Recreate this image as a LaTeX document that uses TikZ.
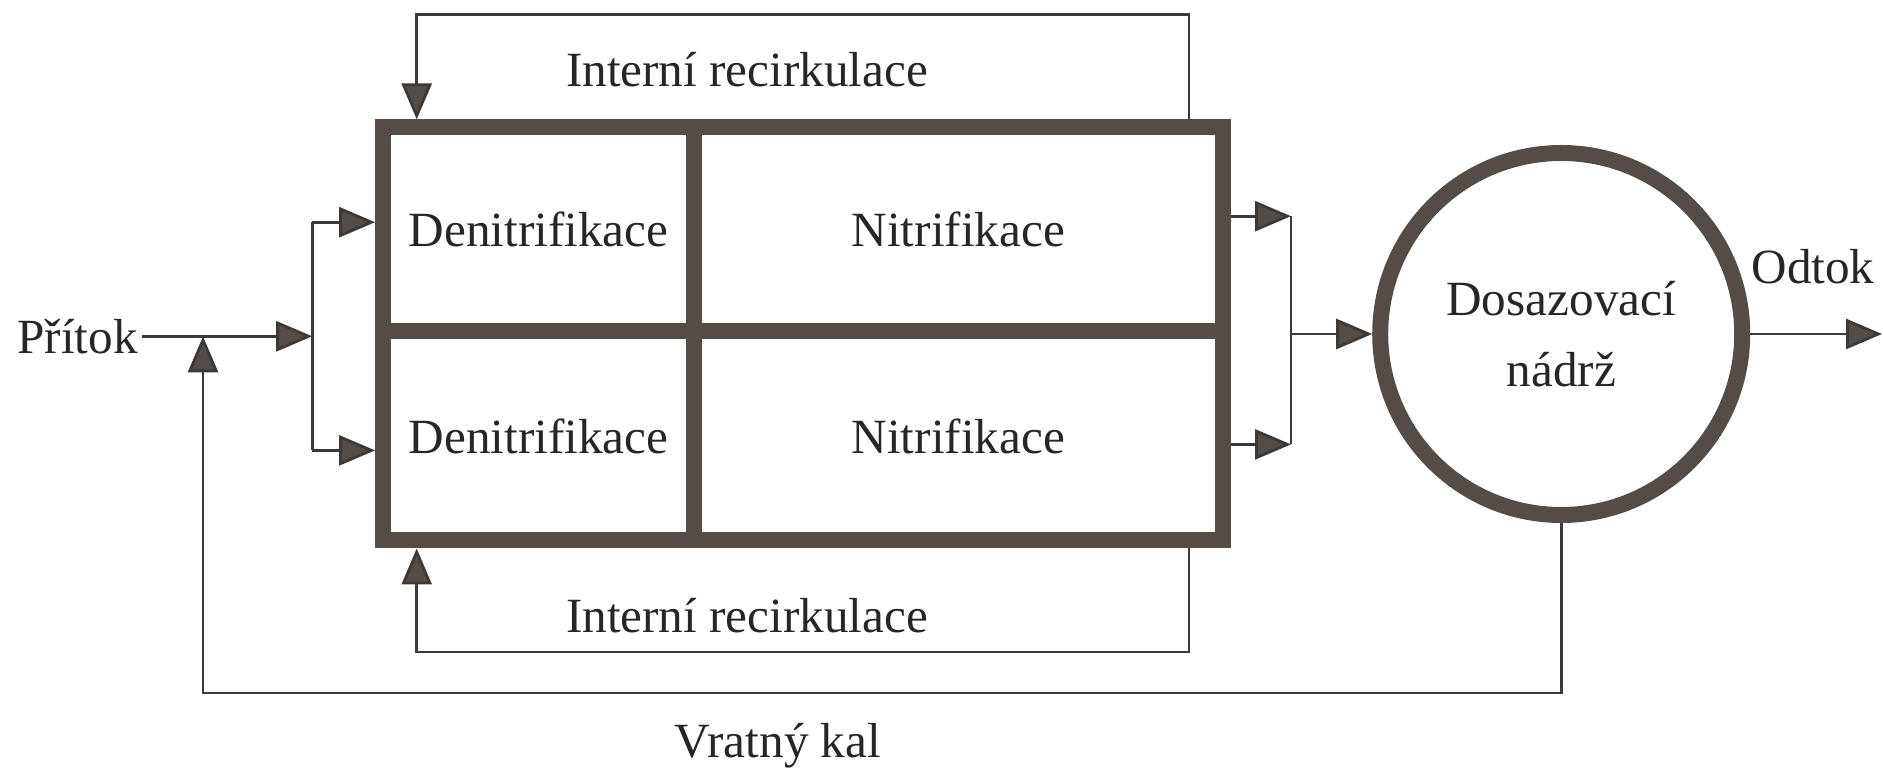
\documentclass[tikz,border=0pt]{standalone}
\usepackage{fontspec}
\setmainfont{Liberation Serif}
\usepackage{tikz}
\usetikzlibrary{arrows.meta,positioning,calc}
\definecolor{tankInk}{RGB}{84,76,70}
\definecolor{lineInk}{RGB}{60,58,56}
\definecolor{textInk}{RGB}{40,38,36}
\tikzset{
  tank cell/.style={draw=tankInk,line width=1.6mm,inner sep=0pt,text=textInk,font=\fontsize{14}{17}\selectfont},
  settler/.style={circle,draw=tankInk,line width=1.6mm,minimum size=3.62cm,align=center,text=textInk,font=\fontsize{14}{20}\selectfont},
  flow label/.style={text=textInk,font=\fontsize{14}{17}\selectfont,inner sep=1pt},
  flow line/.style={draw=lineInk,line width=0.8pt},
  flow arrow/.style={-{Triangle[length=3.6mm,width=3mm,fill=tankInk]},draw=lineInk,line width=0.8pt}
}
\begin{document}
\begin{tikzpicture}
  \useasboundingbox (0,0) rectangle (18.83,7.71);
  % aeration tank, two lanes
  \node[tank cell,minimum width=3.11cm,minimum height=2.04cm] (den1) at (5.386,5.416) {Denitrifikace};
  \node[tank cell,minimum width=5.284cm,minimum height=2.04cm] (nit1) at (9.583,5.416) {Nitrifikace};
  \node[tank cell,minimum width=3.11cm,minimum height=2.09cm] (den2) at (5.386,3.35) {Denitrifikace};
  \node[tank cell,minimum width=5.284cm,minimum height=2.09cm] (nit2) at (9.583,3.35) {Nitrifikace};
  % settling tank
  \node[settler] (dos) at (15.612,4.37) {Dosazovací\\nádrž};
  % labels
  \node[flow label,anchor=east] (inflow) at (1.42,4.347) {Přítok};
  \node[flow label] (outlab) at (18.13,5.04) {Odtok};
  \node[flow label] (recTop) at (7.47,7.01) {Interní recirkulace};
  \node[flow label] (recBot) at (7.47,1.55) {Interní recirkulace};
  \node[flow label] (sludge) at (7.78,0.25) {Vratný kal};
  % routing points
  \coordinate (split) at (3.122,4.347);
  \coordinate (inTop) at (3.122,5.488);
  \coordinate (inBot) at (3.122,3.206);
  \coordinate (merge) at (12.91,4.37);
  \coordinate (outTop) at (12.91,5.548);
  \coordinate (outBot) at (12.91,3.266);
  \coordinate (join) at (2.03,4.347);
  \coordinate (retL) at (2.03,0.78);
  \coordinate (retR) at (15.612,0.78);
  \coordinate (topL) at (4.167,7.566);
  \coordinate (topR) at (11.89,7.566);
  \coordinate (botL) at (4.167,1.19);
  \coordinate (botR) at (11.89,1.19);
  \coordinate (outEnd) at (18.82,4.37);
  % inflow and splitting
  \draw[flow arrow] (inflow.east) -- (split);
  \draw[flow line] (inTop) -- (inBot);
  \draw[flow arrow] (inTop) -- (inTop -| den1.west);
  \draw[flow arrow] (inBot) -- (inBot -| den2.west);
  % outflow to settler
  \draw[flow arrow] (outTop -| nit1.east) -- (outTop);
  \draw[flow arrow] (outBot -| nit2.east) -- (outBot);
  \draw[flow line] (outTop) -- (outBot);
  \draw[flow arrow] (merge) -- (dos.west);
  \draw[flow arrow] (dos.east) -- (outEnd);
  % internal recirculation
  \draw[flow arrow] (topR |- nit1.north) -- (topR) -- (topL) -- (topL |- den1.north);
  \draw[flow arrow] (botR |- nit2.south) -- (botR) -- (botL) -- (botL |- den2.south);
  % return sludge
  \draw[flow arrow] (dos.south) -- (retR) -- (retL) -- (join);
\end{tikzpicture}
\end{document}
